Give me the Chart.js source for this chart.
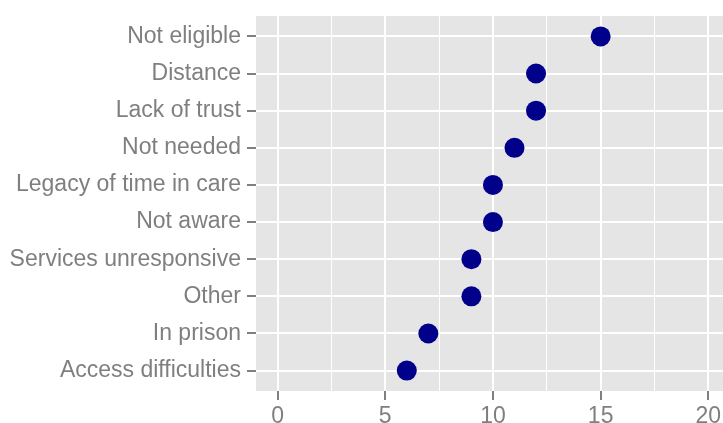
<!DOCTYPE html>
<html>
<head>
<meta charset="utf-8">
<script src="https://cdn.jsdelivr.net/npm/chart.js@4.4.1/dist/chart.umd.min.js"></script>
<style>
  html, body { margin: 0; padding: 0; background: #ffffff; }
  #wrap { width: 723px; height: 423px; }
</style>
</head>
<body>
<div id="wrap"><canvas id="chart" width="723" height="423"></canvas></div>
<script>
// reasons, top to bottom as in the plot
const reasons = [
    "Not eligible",
    "Distance",
    "Lack of trust",
    "Not needed",
    "Legacy of time in care",
    "Not aware",
    "Services unresponsive",
    "Other",
    "In prison",
    "Access difficulties"
];
const counts = [15, 12, 12, 11, 10, 10, 9, 9, 7, 6];
const xTicks = [0, 2.5, 5, 7.5, 10, 12.5, 15, 17.5, 20];

const textGrey = "#7f7f7f";
const n = reasons.length;

// the y axis counts up from the bottom, so first reason sits at the top
const points = reasons.map((r, i) => ({ x: counts[i], y: n - i }));

// grey panel behind the grid
const panelBg = {
    id: "panelBg",
    beforeDraw(chart) {
        const a = chart.chartArea;
        const ctx = chart.ctx;
        ctx.save();
        ctx.fillStyle = "#e5e5e5";
        ctx.fillRect(a.left, a.top, a.right - a.left, a.bottom - a.top);
        ctx.restore();
    }
};

const isMajor = (v) => v % 5 === 0;

// stop the scales from reserving room for overhanging labels
const noPad = (s) => {
    s.paddingLeft = 0; s.paddingRight = 0;
    s.paddingTop = 0; s.paddingBottom = 0;
};

new Chart(document.getElementById("chart"), {
    type: "scatter",
    plugins: [panelBg],
    data: {
        datasets: [{
            data: points,
            backgroundColor: "#00008b",
            borderWidth: 0,
            pointRadius: 10,
            pointHoverRadius: 10
        }]
    },
    options: {
        responsive: false,
        animation: false,
        layout: {
            autoPadding: false,
            padding: { top: 16, right: 0, left: 0, bottom: 0 }
        },
        plugins: {
            legend: { display: false },
            tooltip: { enabled: false }
        },
        scales: {
            x: {
                type: "linear",
                min: -1,
                max: 20.68,
                afterBuildTicks: (s) => { s.ticks = xTicks.map(v => ({ value: v })); },
                afterFit: (s) => { s.height = 32; noPad(s); },
                border: { display: false },
                grid: {
                    color: "#ffffff",
                    lineWidth: (c) => isMajor(c.tick.value) ? 2 : 1,
                    tickColor: (c) => isMajor(c.tick.value) ? textGrey : "rgba(0,0,0,0)",
                    tickWidth: 2,
                    tickLength: 9
                },
                ticks: {
                    color: textGrey,
                    font: { family: "'Liberation Sans', Arial, sans-serif", size: 23 },
                    padding: 3,
                    maxRotation: 0,
                    autoSkip: false,
                    callback: (v) => isMajor(v) ? String(v) : ""
                }
            },
            y: {
                type: "linear",
                min: 0.45,
                max: n + 0.55,
                afterBuildTicks: (s) => { s.ticks = reasons.map((r, i) => ({ value: n - i })); },
                afterFit: (s) => { s.width = 256; noPad(s); },
                border: { display: false },
                grid: {
                    color: "#ffffff",
                    lineWidth: 2,
                    tickColor: textGrey,
                    tickWidth: 2,
                    tickLength: 9
                },
                ticks: {
                    color: textGrey,
                    font: { family: "'Liberation Sans', Arial, sans-serif", size: 23 },
                    padding: 6,
                    autoSkip: false,
                    callback: (v) => reasons[n - v]
                }
            }
        }
    }
});
</script>
</body>
</html>
